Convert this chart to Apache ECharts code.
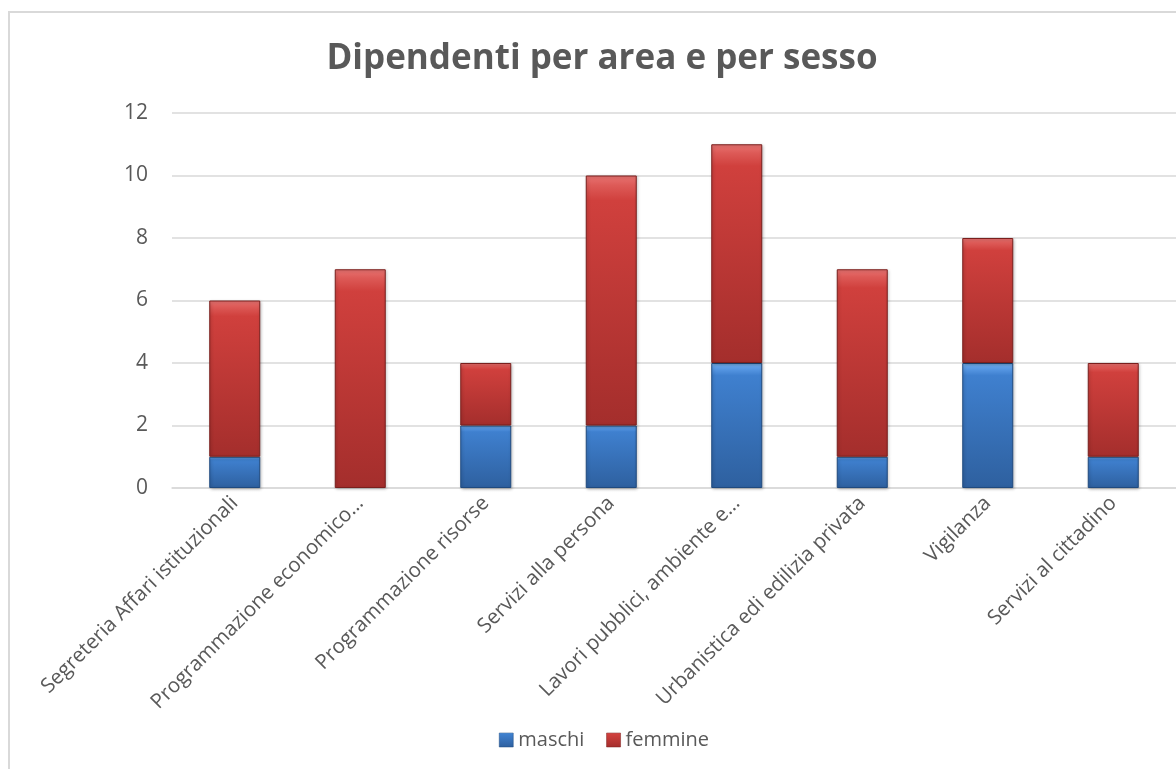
<!DOCTYPE html>
<html>
<head>
<meta charset="utf-8">
<script src="https://cdn.jsdelivr.net/npm/echarts@6/dist/echarts.min.js"></script>
<style>
html,body{margin:0;padding:0;background:#fff;}
#chart{width:1176px;height:769px;}
</style>
</head>
<body>
<div id="chart"></div>
<script>
const categories = [
  "Segreteria Affari istituzionali",
  "Programmazione economico…",
  "Programmazione risorse",
  "Servizi alla persona",
  "Lavori pubblici, ambiente e…",
  "Urbanistica edi edilizia privata",
  "Vigilanza",
  "Servizi al cittadino"
];
const maschi = [1, 0, 2, 2, 4, 1, 4, 1];
const femmine = [5, 7, 2, 8, 7, 6, 4, 3];
const yTicks = { min: 0, max: 12, interval: 2 };

const textColor = '#595959';
const font = 'Open Sans';

function grad(top, hi, mid, bot) {
  return new echarts.graphic.LinearGradient(0, 0, 0, 1, [
    { offset: 0, color: hi },
    { offset: 0.04, color: top },
    { offset: 0.1, color: mid },
    { offset: 1, color: bot }
  ]);
}
const blueFill = grad('#5b9be6', '#7ab8f2', '#3f80cf', '#2e609f');
const redFill = grad('#dd5a57', '#e87472', '#d0403d', '#a42e2c');

// zero-height segments are not drawn
const nz = arr => arr.map(v => (v === 0 ? null : v));

const chart = echarts.init(document.getElementById('chart'), null, { renderer: 'canvas' });
chart.setOption({
  animation: false,
  backgroundColor: '#ffffff',
  textStyle: { fontFamily: font },
  graphic: [{
    type: 'rect',
    shape: { x: 9, y: 12, width: 1220, height: 800 },
    style: { fill: 'none', stroke: '#d9d9d9', lineWidth: 2 },
    silent: true,
    z: -10
  }],
  title: {
    text: 'Dipendenti per area e per sesso',
    left: 597,
    textAlign: 'center',
    top: 37,
    textStyle: { fontFamily: font, fontSize: 35, fontWeight: 'bold', color: textColor }
  },
  legend: {
    left: 494,
    top: 725,
    itemWidth: 14,
    itemHeight: 14,
    itemGap: 22,
    icon: 'rect',
    textStyle: { fontFamily: font, fontSize: 20, color: textColor, padding: [0, 0, 0, 0] },
    data: [
      { name: 'maschi', itemStyle: { color: blueFill, borderColor: '#1f4a7f', borderWidth: 0.5 } },
      { name: 'femmine', itemStyle: { color: redFill, borderColor: '#7a1f1d', borderWidth: 0.5 } }
    ]
  },
  grid: { left: 172, top: 113, width: 1017, height: 375, containLabel: false },
  xAxis: {
    type: 'category',
    data: categories,
    axisTick: { show: false },
    axisLine: { show: true, lineStyle: { color: '#d9d9d9', width: 1.5 } },
    axisLabel: {
      interval: 0,
      rotate: 45,
      margin: 12,
      fontFamily: font,
      fontSize: 20.5,
      color: textColor
    }
  },
  yAxis: {
    type: 'value',
    min: yTicks.min,
    max: yTicks.max,
    interval: yTicks.interval,
    axisLine: { show: false },
    axisTick: { show: false },
    splitLine: { lineStyle: { color: '#d9d9d9', width: 1.5 } },
    axisLabel: { margin: 24, fontFamily: font, fontSize: 21, color: textColor }
  },
  series: [
    {
      name: 'maschi',
      type: 'bar',
      stack: 'tot',
      barWidth: 51,
      data: nz(maschi),
      itemStyle: {
        color: blueFill,
        borderColor: '#1f4a7f',
        borderWidth: 1,
        shadowColor: 'rgba(0,0,0,0.25)',
        shadowBlur: 3,
        shadowOffsetX: 1,
        shadowOffsetY: 1
      }
    },
    {
      name: 'femmine',
      type: 'bar',
      stack: 'tot',
      barWidth: 51,
      data: nz(femmine),
      itemStyle: {
        color: redFill,
        borderColor: '#7a1f1d',
        borderWidth: 1,
        shadowColor: 'rgba(0,0,0,0.25)',
        shadowBlur: 3,
        shadowOffsetX: 1,
        shadowOffsetY: 1
      }
    }
  ]
});
</script>
</body>
</html>
